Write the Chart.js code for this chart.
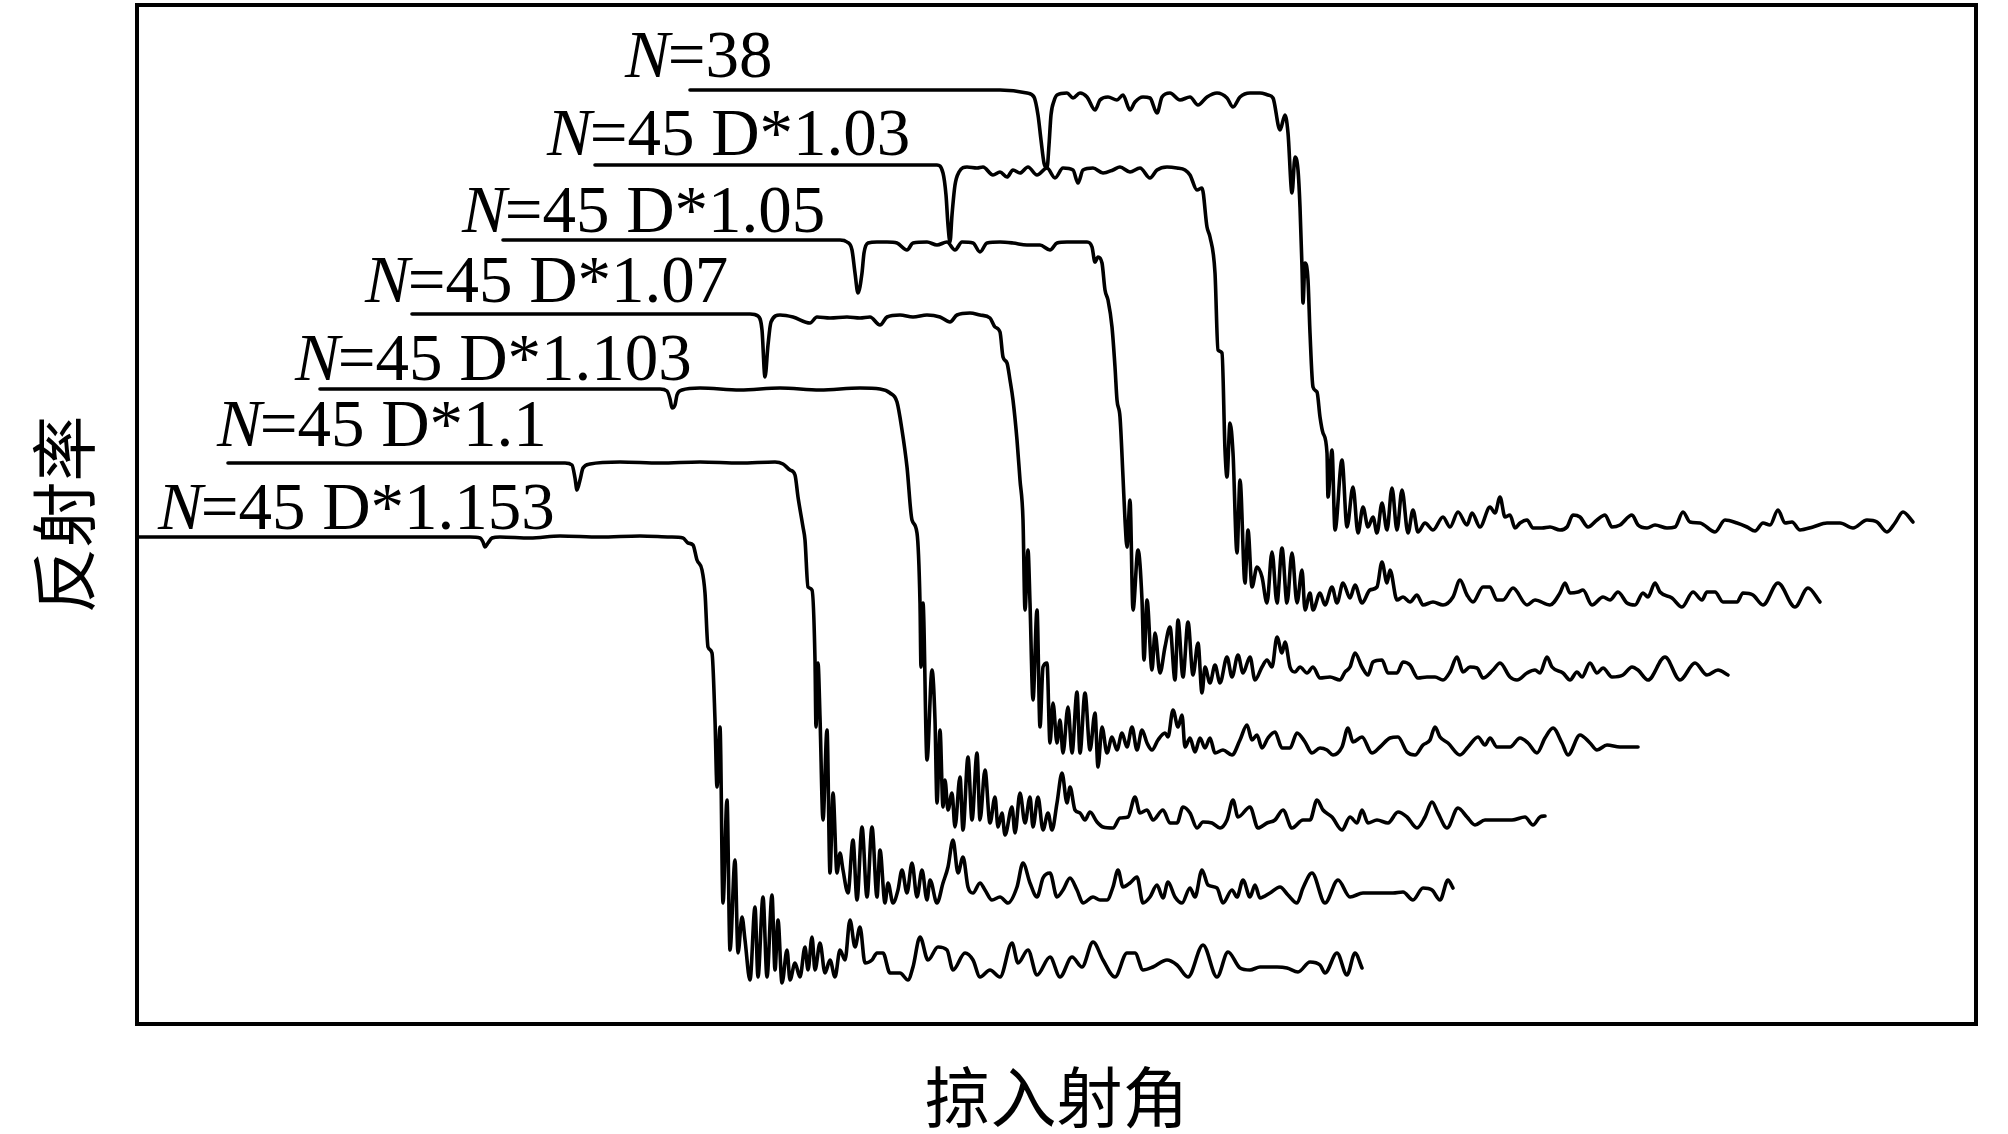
<!DOCTYPE html>
<html>
<head>
<meta charset="utf-8">
<script src="https://cdn.jsdelivr.net/npm/chart.js@4.4.1/dist/chart.umd.min.js"></script>
<style>
  html, body { margin: 0; padding: 0; background: #fff; }
  #wrap { width: 2008px; height: 1134px; }
</style>
</head>
<body>
<div id="wrap"><canvas id="c" width="2008" height="1134"></canvas></div>
<script>
// Grazing angle (arbitrary units) / reflectivity (arbitrary units, curves stacked)
const xTitle = '掠入射角';
const yTitle = '反射率';

const curveLabels = ['=38', '=45 D*1.03', '=45 D*1.05', '=45 D*1.07', '=45 D*1.103', '=45 D*1.1', '=45 D*1.153'];
const labelAngle = [525, 447, 362, 265, 195, 117, 58];
const labelRefl  = [923, 845, 768, 698, 620, 554, 471];

const curveN38 = [[590,910],[900,910],[927,907],[934,903],[938,885],[941,860],[944,837],[947,832],[949,855],[951,885],[954,899],[957,905],[967,907],[973,902],[980,907],[987,903],[995,890],[1000,900],[1008,903],[1017,900],[1023,905],[1030,890],[1035,898],[1043,903],[1050,902],[1057,887],[1062,903],[1070,907],[1080,900],[1090,903],[1098,895],[1107,903],[1117,907],[1127,902],[1133,893],[1140,903],[1150,907],[1160,907],[1168,905],[1173,902],[1180,870],[1185,885],[1188,867],[1192,807],[1195,843],[1198,830],[1200,793],[1202,733],[1203,697],[1205,737],[1208,720],[1210,667],[1213,613],[1217,608],[1220,583],[1223,567],[1227,547],[1228,503],[1232,550],[1235,470],[1242,540],[1247,473],[1253,513],[1258,467],[1263,493],[1268,473],[1273,483],[1277,467],[1282,497],[1287,470],[1292,512],[1297,470],[1302,510],[1308,467],[1313,490],[1318,468],[1325,477],[1333,470],[1343,483],[1350,473],[1358,488],[1367,475],[1372,487],[1380,473],[1390,493],[1395,487],[1400,503],[1405,483],[1410,485],[1415,472],[1420,477],[1427,480],[1433,472],[1442,472],[1450,473],[1460,470],[1467,473],[1473,485],[1480,483],[1488,473],[1497,480],[1505,485],[1512,473],[1520,475],[1532,485],[1538,475],[1547,472],[1555,475],[1567,472],[1575,473],[1583,488],[1590,478],[1600,477],[1615,468],[1625,480],[1637,477],[1647,473],[1655,469],[1663,477],[1670,475],[1678,490],[1685,477],[1692,478],[1700,470],[1713,473],[1727,477],[1740,477],[1753,472],[1767,480],[1777,478],[1787,468],[1795,477],[1803,488],[1813,478]];

const curveD103 = [[495,835],[837,835],[843,827],[846,805],[848,775],[850,758],[852,785],[855,815],[859,828],[867,833],[877,832],[883,833],[893,825],[900,828],[907,823],[913,830],[920,827],[928,833],[937,825],[947,832],[955,822],[963,832],[973,830],[978,817],[983,830],[993,832],[1003,827],[1013,830],[1020,833],[1030,828],[1040,832],[1050,822],[1057,830],[1067,833],[1077,832],[1085,830],[1090,825],[1097,810],[1102,812],[1107,773],[1110,763],[1115,727],[1118,650],[1122,647],[1125,550],[1127,523],[1130,577],[1133,547],[1137,447],[1140,520],[1145,417],[1148,470],[1152,413],[1157,433],[1162,423],[1167,397],[1172,448],[1177,397],[1182,452],[1187,397],[1192,447],[1197,397],[1202,430],[1205,390],[1210,407],[1213,390],[1220,407],[1225,395],[1232,413],[1237,397],[1243,417],[1250,402],[1255,415],[1262,397],[1270,410],[1277,413],[1282,438],[1287,417],[1290,430],[1297,400],[1303,403],[1310,398],[1317,405],[1323,395],[1333,398],[1343,395],[1353,403],[1360,420],[1367,405],[1373,398],[1383,413],[1390,413],[1397,400],[1403,400],[1413,412],[1427,395],[1435,400],[1450,395],[1460,407],[1465,417],[1470,407],[1478,408],[1483,410],[1492,395],[1503,403],[1510,400],[1518,408],[1527,397],[1535,395],[1543,407],[1548,403],[1555,417],[1560,408],[1572,402],[1582,393],[1593,408],[1602,400],[1607,408],[1615,408],[1623,398],[1637,398],[1643,407],[1653,405],[1663,395],[1678,417],[1695,393],[1708,412],[1720,398]];

const curveD105 = [[403,760],[740,760],[747,758],[752,750],[755,727],[758,707],[762,727],[764,747],[768,757],[777,758],[787,758],[797,757],[807,750],[813,757],[827,758],[837,755],[847,758],[855,750],[862,758],[873,757],[880,748],[887,757],[900,758],[913,757],[927,755],[940,755],[950,750],[957,757],[967,758],[980,758],[987,758],[992,753],[995,738],[998,743],[1002,737],[1005,710],[1008,700],[1012,673],[1015,633],[1017,600],[1020,583],[1023,523],[1025,480],[1027,453],[1030,500],[1033,390],[1038,450],[1042,400],[1044,340],[1047,400],[1052,330],[1055,367],[1060,327],[1065,353],[1070,373],[1075,320],[1078,380],[1083,323],[1088,378],[1093,325],[1098,357],[1102,307],[1105,333],[1110,317],[1115,335],[1120,317],[1127,343],[1132,323],[1138,345],[1143,327],[1150,343],[1155,320],[1162,333],[1167,340],[1172,333],[1177,363],[1182,347],[1185,358],[1190,333],[1195,328],[1200,333],[1207,327],[1213,333],[1220,322],[1230,323],[1240,320],[1245,328],[1250,333],[1255,347],[1262,333],[1268,325],[1273,338],[1282,340],[1288,327],[1297,327],[1303,338],[1310,335],[1318,322],[1327,323],[1335,323],[1343,320],[1350,328],[1357,343],[1363,328],[1370,333],[1377,332],[1383,322],[1393,330],[1400,337],[1410,323],[1417,320],[1427,327],[1435,330],[1440,327],[1447,343],[1452,333],[1463,327],[1470,320],[1477,328],[1482,323],[1490,337],[1497,327],[1503,332],[1512,323],[1523,325],[1532,333],[1538,330],[1548,320],[1565,343],[1580,320],[1595,337],[1607,325],[1618,330],[1628,325]];

const curveD107 = [[312,686],[650,686],[658,684],[662,670],[665,623],[668,655],[671,678],[680,685],[693,683],[710,677],[717,683],[730,682],[747,683],[760,682],[770,683],[780,675],[787,683],[800,685],[813,683],[827,685],[840,683],[850,678],[857,685],[870,687],[880,685],[890,682],[895,673],[900,668],[903,643],[907,637],[910,620],[913,600],[917,560],[920,520],[923,480],[925,390],[928,450],[930,397],[933,300],[937,390],[940,273],[943,333],[947,337],[950,257],[953,297],[957,257],[960,280],[963,247],[968,293],[972,247],[977,308],[980,247],[985,307],[990,250],[995,287],[998,233],[1002,273],[1007,247],[1012,263],[1017,250],[1022,267],[1027,253],[1032,273],[1037,250],[1042,270],[1047,257],[1052,250],[1058,260],[1065,267],[1068,263],[1073,290],[1078,273],[1082,285],[1085,253],[1090,262],[1095,248],[1100,262],[1105,252],[1110,262],[1115,247],[1123,250],[1132,245],[1140,260],[1147,275],[1152,260],[1157,265],[1162,252],[1168,262],[1175,268],[1182,252],[1190,252],[1197,267],[1205,258],[1212,247],[1220,252],[1227,250],[1233,245],[1242,253],[1248,272],[1253,258],[1262,263],[1272,247],[1280,253],[1290,262],[1298,263],[1307,248],[1315,245],[1323,255],[1330,260],[1335,273],[1340,263],[1348,257],[1360,245],[1368,253],[1378,263],[1385,255],[1390,262],[1397,253],[1410,253],[1420,262],[1428,257],[1437,247],[1445,262],[1453,272],[1462,257],[1468,245],[1480,265],[1490,257],[1497,250],[1507,255],[1520,253],[1538,253]];

const curveD1103 = [[220,611],[560,611],[567,609],[570,601],[572,592],[575,595],[577,605],[582,610],[600,612],[640,610],[680,612],[720,610],[760,612],[780,611],[790,607],[797,598],[802,570],[807,533],[812,480],[817,467],[820,397],[821,333],[823,397],[827,240],[832,330],[835,280],[837,197],[840,270],[843,193],[845,220],[848,190],[852,207],[855,173],[860,223],[863,170],[868,243],[872,180],[877,247],[880,180],[885,230],[890,177],[895,203],[898,173],[902,187],[905,165],[912,193],[915,167],[920,207],[925,177],[930,203],[933,173],[938,203],[943,170],[948,187],[952,170],[957,197],[962,227],[967,197],[970,213],[975,190],[980,187],[985,180],[990,188],[997,178],[1003,173],[1013,172],[1020,182],[1028,183],[1035,203],[1040,187],[1047,190],[1053,180],[1063,190],[1070,177],[1077,177],[1083,193],[1090,187],[1097,172],[1103,178],[1112,177],[1120,172],[1127,180],[1133,200],[1138,183],[1150,193],[1158,172],[1167,177],[1175,180],[1183,190],[1192,172],[1203,180],[1210,180],[1217,200],[1223,190],[1232,183],[1242,170],[1250,183],[1257,177],[1262,190],[1268,177],[1277,180],[1288,177],[1298,188],[1307,183],[1317,172],[1325,183],[1332,198],[1338,187],[1347,172],[1358,192],[1367,183],[1375,175],[1385,180],[1397,180],[1412,180],[1425,183],[1433,175],[1440,183],[1445,184]];

const curveD110 = [[128,537],[465,537],[472,535],[475,522],[477,510],[480,520],[483,532],[490,536],[520,538],[560,537],[600,538],[640,537],[675,538],[683,536],[690,530],[695,525],[698,503],[703,473],[705,460],[708,413],[712,410],[715,340],[716,273],[718,337],[720,283],[723,180],[727,270],[730,127],[733,207],[737,127],[740,147],[743,130],[748,107],[753,160],[757,100],[762,173],[767,103],[772,173],[777,103],[780,150],[785,97],[788,117],[793,97],[798,110],[802,130],[807,107],[812,137],[817,103],[822,130],[827,100],[830,120],[837,97],[843,117],[848,133],[853,160],[858,127],[863,143],[868,113],[873,107],[880,117],[885,110],[892,100],[900,103],[908,97],[917,113],[923,137],[930,117],[937,103],[943,122],[950,127],[957,103],[963,110],[970,122],[977,110],[983,97],[993,103],[1000,100],[1007,100],[1013,113],[1018,130],[1023,113],[1030,117],[1037,123],[1043,97],[1050,103],[1057,115],[1063,102],[1068,118],[1075,103],[1082,97],[1090,112],[1095,103],[1102,130],[1108,115],[1117,112],[1123,97],[1132,110],[1137,103],[1143,120],[1150,103],[1155,115],[1160,102],[1170,107],[1180,113],[1188,105],[1197,97],[1203,112],[1212,127],[1225,97],[1238,120],[1250,103],[1263,107],[1277,107],[1293,107],[1303,108],[1313,100],[1323,112],[1332,110],[1340,100],[1348,120],[1353,112]];

const curveD1153 = [[37,463],[370,463],[380,462],[383,458],[385,453],[388,457],[392,462],[400,463],[430,462],[460,464],[500,463],[540,464],[570,463],[583,462],[588,457],[593,455],[597,440],[602,430],[605,407],[608,353],[612,347],[615,280],[617,213],[620,273],[623,97],[627,200],[630,50],[635,140],[638,47],[642,83],[645,60],[650,20],[655,93],[658,23],[663,103],[667,23],[672,105],[675,30],[678,80],[682,17],[687,50],[690,20],[695,37],[700,23],[705,53],[708,30],[712,63],[715,30],[720,57],[725,27],[730,40],[735,23],[740,50],[745,40],[750,80],[755,53],[760,73],[765,37],[772,40],[777,47],[783,47],[790,27],[800,27],[808,20],[813,33],[820,63],[828,40],[838,53],[847,50],[853,30],[865,47],[873,40],[880,23],[890,30],[900,23],[912,57],[918,37],[928,50],[937,25],[950,43],[960,23],[972,43],[982,33],[993,58],[1003,40],[1015,23],[1027,47],[1035,47],[1043,30],[1053,33],[1067,40],[1077,35],[1088,23],[1103,55],[1117,23],[1128,48],[1140,32],[1150,30],[1160,33],[1177,33],[1187,32],[1198,28],[1210,38],[1220,35],[1225,27],[1237,47],[1247,25],[1255,47],[1262,32]];

const curves = [curveN38, curveD103, curveD105, curveD107, curveD1103, curveD110, curveD1153];

const X_MIN = 37, X_MAX = 1876, Y_MIN = -24, Y_MAX = 995;

const labelPlugin = {
  id: 'curveLabels',
  afterDatasetsDraw(chart) {
    const {ctx, scales} = chart;
    const fs = 67;
    ctx.save();
    ctx.fillStyle = '#000';
    ctx.textBaseline = 'alphabetic';
    ctx.textAlign = 'left';
    curveLabels.forEach((t, i) => {
      const px = scales.x.getPixelForValue(labelAngle[i]);
      const py = scales.y.getPixelForValue(labelRefl[i]);
      ctx.font = 'italic ' + fs + 'px "Liberation Serif"';
      ctx.fillText('N', px, py);
      const w = ctx.measureText('N').width;
      ctx.font = fs + 'px "Liberation Serif"';
      ctx.fillText(t, px + w - 2, py);
    });
    ctx.restore();
  }
};

function hiddenAxis(pos, min, max) {
  return {
    type: 'linear', position: pos, min: min, max: max,
    ticks: { display: false },
    grid: { display: false, drawTicks: false, lineWidth: 4 },
    border: { display: true, color: '#000', width: 4 },
    title: { display: false }
  };
}

function build() {
  const datasets = curves.map((pts, i) => ({
    label: 'N' + curveLabels[i],
    data: pts.map(p => ({ x: p[0], y: p[1] })),
    showLine: true,
    borderColor: '#000',
    backgroundColor: '#000',
    borderWidth: 3.6,
    borderJoinStyle: 'round',
    borderCapStyle: 'round',
    cubicInterpolationMode: 'monotone',
    pointRadius: 0,
    fill: false
  }));

  const xAxis = hiddenAxis('bottom', X_MIN, X_MAX);
  xAxis.title = { display: true, text: xTitle, color: '#000',
    font: { family: '"Noto Sans CJK SC"', size: 66, lineHeight: 1 },
    padding: { top: 40, bottom: 0 } };
  const yAxis = hiddenAxis('left', Y_MIN, Y_MAX);
  yAxis.title = { display: true, text: yTitle, color: '#000',
    font: { family: '"Noto Sans CJK SC"', size: 66, lineHeight: 1 },
    padding: { top: 31, bottom: 40 } };

  new Chart(document.getElementById('c'), {
    type: 'scatter',
    data: { datasets },
    options: {
      responsive: false,
      animation: false,
      devicePixelRatio: 1,
      layout: { padding: { left: 0, right: 32, top: 5, bottom: 4 } },
      plugins: { legend: { display: false }, tooltip: { enabled: false } },
      scales: {
        x: xAxis,
        x2: hiddenAxis('top', X_MIN, X_MAX),
        y: yAxis,
        y2: hiddenAxis('right', Y_MIN, Y_MAX)
      }
    },
    plugins: [labelPlugin]
  });
}

Promise.all([
  document.fonts.load('67px "Liberation Serif"'),
  document.fonts.load('italic 67px "Liberation Serif"'),
  document.fonts.load('66px "Noto Sans CJK SC"', '掠入射角反射率')
]).then(build, build);
</script>
</body>
</html>
